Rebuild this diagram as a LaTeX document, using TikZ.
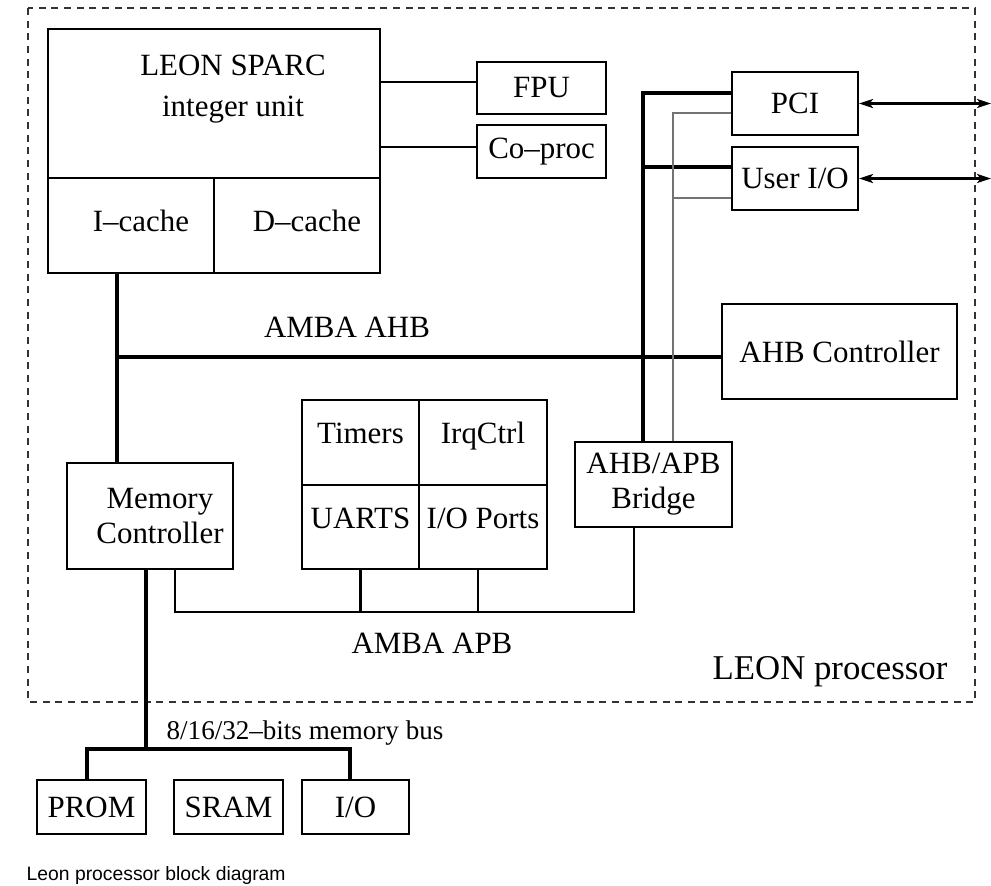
\documentclass[tikz,border=0pt]{standalone}
\usepackage{fontspec}
\setmainfont{Liberation Serif}
\newfontfamily\capfont{Liberation Sans}
\usetikzlibrary{arrows.meta}

\tikzset{
  box/.style={draw, line width=0.6pt, inner sep=0pt, align=center,
    font=\fontsize{8.8}{10}\selectfont},
  cell/.style={box, text height=6.5pt, text depth=5.7pt},
  lbl/.style={font=\fontsize{8.8}{10}\selectfont},
  bus/.style={line width=1.2pt},
  wire/.style={line width=0.6pt},
  ctl/.style={line width=0.45pt, black!55},
  io/.style={line width=0.6pt, {Stealth[length=4pt,width=2.6pt,inset=1pt]}-{Stealth[length=4pt,width=2.6pt,inset=1pt]}},
}

\begin{document}
\begin{tikzpicture}
\useasboundingbox (0,0) rectangle (9.91,-8.85);

% processor frame
\draw[line width=0.6pt, black!80, dash pattern=on 2pt off 1.6pt] (0.28,-0.08) rectangle (9.75,-7.02);
\node[font=\fontsize{9.9}{12}\selectfont] (leonlbl) at (8.30,-6.72) {LEON processor};

% integer unit and caches
\node[box, minimum width=3.32cm, minimum height=1.49cm] (iu) at (2.14,-1.035) {};
\node[align=center, font=\fontsize{8.8}{11.9}\selectfont] (iutxt) at (2.33,-0.89) {LEON SPARC\\integer unit};
\node[box, text height=6.2pt, text depth=3pt, minimum width=1.66cm, minimum height=0.95cm] (ic) at (1.31,-2.255) {\hspace{0.2cm}I--cache};
\node[box, text height=6.2pt, text depth=3pt, minimum width=1.66cm, minimum height=0.95cm] (dc) at (2.97,-2.255) {\hspace{0.2cm}D--cache};

\node[box, minimum width=1.29cm, minimum height=0.52cm] (fpu) at (5.415,-0.88) {FPU};
\node[box, minimum width=1.29cm, minimum height=0.53cm] (cop) at (5.415,-1.515) {Co--proc};

\node[box, minimum width=1.26cm, minimum height=0.63cm] (pci) at (7.95,-1.035) {PCI};
\node[box, minimum width=1.26cm, minimum height=0.63cm] (uio) at (7.95,-1.785) {User I/O};

\node[box, minimum width=2.35cm, minimum height=0.95cm] (ahbc) at (8.395,-3.515) {AHB Controller};
\node[box, minimum width=1.57cm, minimum height=0.85cm] (brg) at (6.535,-4.845) {AHB/APB\\Bridge};
\node[box, minimum width=1.66cm, minimum height=1.06cm] (mc) at (1.50,-5.16) {\hspace{0.2cm}Memory\\\hspace{0.2cm}Controller};

% APB peripherals
\node[cell, minimum width=1.17cm, minimum height=0.85cm] (tim) at (3.605,-4.425) {Timers};
\node[cell, minimum width=1.28cm, minimum height=0.85cm] (irq) at (4.83,-4.425) {IrqCtrl};
\node[cell, minimum width=1.17cm, minimum height=0.84cm] (uart) at (3.605,-5.27) {UARTS};
\node[cell, minimum width=1.28cm, minimum height=0.84cm] (iop) at (4.83,-5.27) {I/O Ports};

% external memory
\node[box, minimum width=1.09cm, minimum height=0.54cm] (prom) at (0.915,-8.07) {PROM};
\node[box, minimum width=1.09cm, minimum height=0.54cm] (sram) at (2.285,-8.07) {SRAM};
\node[box, minimum width=1.07cm, minimum height=0.54cm] (io) at (3.555,-8.07) {I/O};

\node[lbl] (ahblbl) at (3.47,-3.27) {AMBA AHB};
\node[lbl] (apblbl) at (4.32,-6.43) {AMBA APB};
\node[font=\fontsize{7.7}{9}\selectfont] (buslbl) at (3.05,-7.33) {8/16/32--bits memory bus};
\node[anchor=west, inner sep=0pt, font=\capfont\fontsize{5.5}{6.5}\selectfont] (cap) at (0.26,-8.75) {Leon processor block diagram};

% coprocessor links
\coordinate (fpuin) at ([yshift=0.06cm]fpu.west);
\coordinate (copin) at ([yshift=0.045cm]cop.west);
\draw[wire] (iu.east |- fpuin) -- (fpuin);
\draw[wire] (iu.east |- copin) -- (copin);

% AHB
\coordinate (ahb) at (1.17,-3.57);
\draw[bus] (ic.south -| ahb) -- (mc.north -| ahb);
\draw[bus] (ahb) -- (ahb -| ahbc.west);

% PCI / user I/O to bridge
\coordinate (pcia) at ([yshift=0.105cm]pci.west);
\coordinate (pcib) at ([yshift=-0.095cm]pci.west);
\coordinate (uioa) at ([yshift=0.115cm]uio.west);
\coordinate (uiob) at ([yshift=-0.195cm]uio.west);
\coordinate (brga) at ([xshift=-0.105cm]brg.north);
\coordinate (brgb) at ([xshift=0.195cm]brg.north);
\draw[bus] (pcia) -| (brga);
\draw[bus] (uioa) -- (uioa -| brga);
\draw[ctl] (pcib) -| (brgb);
\draw[ctl] (uiob) -- (uiob -| brgb);

\coordinate (pciout) at (9.91,-1.035);
\coordinate (uioout) at (9.91,-1.785);
\draw[io] (pci.east) -- (pciout);
\draw[io] (uio.east) -- (uioout);

% APB
\coordinate (apb) at (1.75,-6.12);
\draw[wire] (mc.south -| apb) -- (apb) -| ([xshift=-0.195cm]brg.south);
\draw[wire] (uart.south) -- (uart.south |- apb);
\draw[wire] ([xshift=-0.05cm]iop.south) -- ([xshift=-0.05cm]iop.south |- apb);

% memory bus
\coordinate (mbus) at (1.46,-7.49);
\draw[bus] (mc.south -| mbus) -- (mbus);
\draw[bus] ([xshift=-0.045cm]prom.north) |- (mbus) -| ([xshift=-0.055cm]io.north);
\end{tikzpicture}
\end{document}
